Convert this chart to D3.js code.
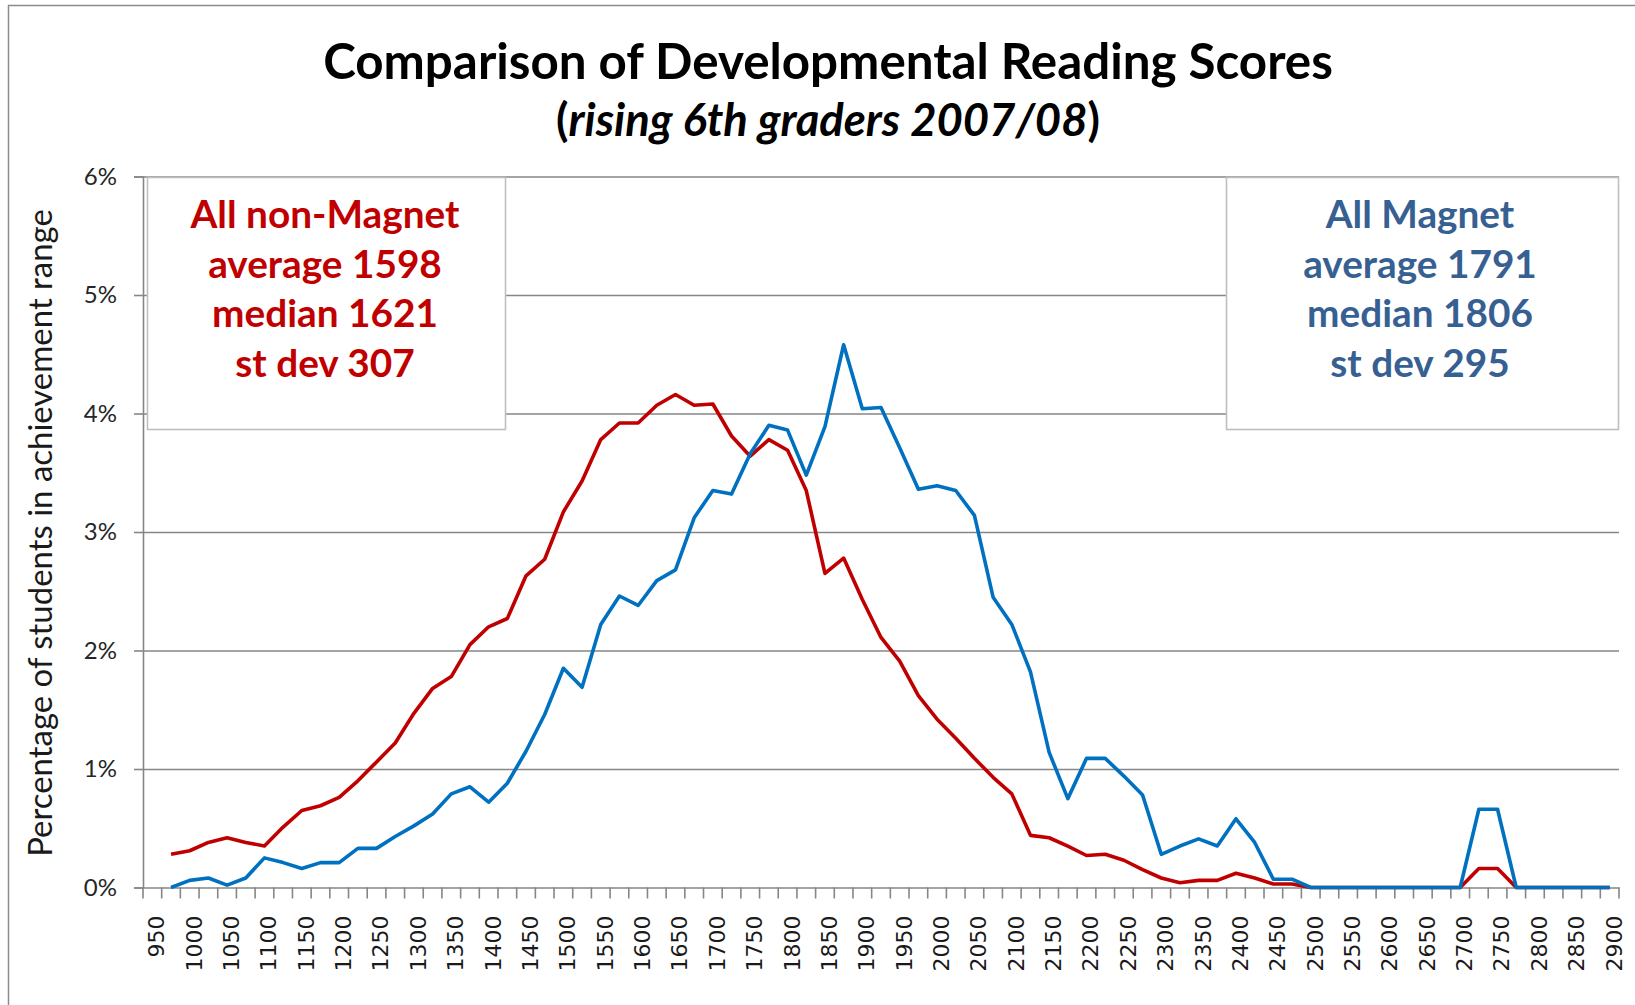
<!DOCTYPE html>
<html>
<head>
<meta charset="utf-8">
<script src="https://cdn.jsdelivr.net/npm/d3@7"></script>
<style>
    body { margin: 0; background: #fff; }
    #chartDiv { width: 1635px; height: 1005px; }
</style>
</head>
<body>
<div id="chartDiv"></div>
<script>

// score bins (category axis), every other one gets a label
const scoreBins = [950, 975, 1000, 1025, 1050, 1075, 1100, 1125, 1150, 1175, 1200, 1225, 1250, 1275,
    1300, 1325, 1350, 1375, 1400, 1425, 1450, 1475, 1500, 1525, 1550, 1575, 1600, 1625, 1650, 1675,
    1700, 1725, 1750, 1775, 1800, 1825, 1850, 1875, 1900, 1925, 1950, 1975, 2000, 2025, 2050, 2075,
    2100, 2125, 2150, 2175, 2200, 2225, 2250, 2275, 2300, 2325, 2350, 2375, 2400, 2425, 2450, 2475,
    2500, 2525, 2550, 2575, 2600, 2625, 2650, 2675, 2700, 2725, 2750, 2775, 2800, 2825, 2850, 2875, 2900];

const xLabels = [950, 1000, 1050, 1100, 1150, 1200, 1250, 1300, 1350, 1400, 1450, 1500, 1550, 1600,
    1650, 1700, 1750, 1800, 1850, 1900, 1950, 2000, 2050, 2100, 2150, 2200, 2250, 2300, 2350, 2400,
    2450, 2500, 2550, 2600, 2650, 2700, 2750, 2800, 2850, 2900];

const yTicks = [0, 1, 2, 3, 4, 5, 6];

// percentage of students per bin
const nonMagnetPct = [null, 0.28, 0.31, 0.38, 0.42, 0.38, 0.35, 0.51, 0.65, 0.69, 0.76, 0.90, 1.06, 1.22,
    1.47, 1.68, 1.78, 2.05, 2.20, 2.27, 2.63, 2.77, 3.17, 3.43, 3.78, 3.92, 3.92, 4.07, 4.16, 4.07,
    4.08, 3.81, 3.64, 3.78, 3.69, 3.35, 2.65, 2.78, 2.43, 2.11, 1.91, 1.62, 1.42, 1.26, 1.09, 0.93,
    0.79, 0.44, 0.42, 0.35, 0.27, 0.28, 0.23, 0.15, 0.08, 0.04, 0.06, 0.06, 0.12, 0.08, 0.03, 0.03,
    0, 0, 0, 0, 0, 0, 0, 0, 0, 0.16, 0.16, 0, 0, 0, 0, 0, 0];

const magnetPct = [null, 0, 0.06, 0.08, 0.02, 0.08, 0.25, 0.21, 0.16, 0.21, 0.21, 0.33, 0.33, 0.43,
    0.52, 0.62, 0.79, 0.85, 0.72, 0.88, 1.15, 1.46, 1.85, 1.69, 2.22, 2.46, 2.38, 2.59, 2.68, 3.12,
    3.35, 3.32, 3.66, 3.90, 3.86, 3.48, 3.89, 4.58, 4.04, 4.05, 3.71, 3.36, 3.39, 3.35, 3.14, 2.45,
    2.22, 1.82, 1.14, 0.75, 1.09, 1.09, 0.94, 0.78, 0.28, 0.35, 0.41, 0.35, 0.58, 0.38, 0.07, 0.07,
    0, 0, 0, 0, 0, 0, 0, 0, 0, 0.66, 0.66, 0, 0, 0, 0, 0, 0];

const nonMagnetStats = ["All non-Magnet", "average 1598", "median 1621", "st dev 307"];
const magnetStats = ["All Magnet", "average 1791", "median 1806", "st dev 295"];


class ReadingChart {

    constructor(parentElement) {
        this.parentElement = parentElement;
        this.initVis();
    }

    initVis() {
        let vis = this;

        vis.margin = {top: 176.5, right: 16, bottom: 117.5, left: 143};
        vis.width = 1635 - vis.margin.left - vis.margin.right;
        vis.height = 1005 - vis.margin.top - vis.margin.bottom;

        vis.svgRoot = d3.select("#" + vis.parentElement).append("svg")
            .attr("width", 1635)
            .attr("height", 1005)
            .style("font-family", "Lato, 'Open Sans', sans-serif");

        // chart area frame (runs off the right and bottom edge)
        vis.svgRoot.append("rect")
            .attr("x", 8.5).attr("y", 5.5)
            .attr("width", 1700).attr("height", 1100)
            .attr("fill", "#fff")
            .attr("stroke", "#8c8c8c")
            .attr("stroke-width", 1.5);

        vis.svg = vis.svgRoot.append("g")
            .attr("transform", `translate(${vis.margin.left}, ${vis.margin.top})`);

        vis.x = d3.scaleBand()
            .domain(scoreBins)
            .range([0, vis.width])
            .padding(0);

        vis.y = d3.scaleLinear()
            .domain([0, 6])
            .range([vis.height, 0]);

        vis.wrangleData();
    }

    wrangleData() {
        let vis = this;

        vis.series = [
            {name: "nonMagnet", color: "#c00000", values: scoreBins.map((b, i) => ({bin: b, pct: nonMagnetPct[i]}))},
            {name: "magnet", color: "#0070c0", values: scoreBins.map((b, i) => ({bin: b, pct: magnetPct[i]}))}
        ];

        vis.updateVis();
    }

    fitWidth(sel, target) {
        let size = parseFloat(sel.style("font-size"));
        let w = sel.node().getComputedTextLength();
        sel.style("font-size", (size * target / w) + "px");
        return size * target / w;
    }

    updateVis() {
        let vis = this;

        // gridlines
        vis.svg.append("g")
            .attr("class", "grid")
            .call(d3.axisLeft(vis.y).tickValues(yTicks.slice(1)).tickSize(-vis.width).tickFormat(""))
            .call(g => g.select(".domain").remove())
            .selectAll("line")
            .attr("stroke", "#868686")
            .attr("stroke-width", 1.6);

        // stat boxes
        let boxes = [
            {lines: nonMagnetStats, color: "#c00000", x: 147, w: 358, cx: 325},
            {lines: magnetStats, color: "#376092", x: 1226, w: 392, cx: 1420}
        ];
        let baselines = [228, 278, 327, 377];

        boxes.forEach(b => {
            vis.svgRoot.append("rect")
                .attr("x", b.x + 0.5).attr("y", 177.5)
                .attr("width", b.w).attr("height", 252)
                .attr("fill", "#fff")
                .attr("stroke", "#bfbfbf")
                .attr("stroke-width", 1.6);
        });

        // y axis
        let yAxisG = vis.svg.append("g")
            .attr("class", "y-axis")
            .call(d3.axisLeft(vis.y).tickValues(yTicks).tickSize(9).tickPadding(17).tickFormat(d => d + "%"));
        yAxisG.select(".domain").attr("stroke", "#868686").attr("stroke-width", 1.6);
        yAxisG.selectAll("line").attr("stroke", "#868686").attr("stroke-width", 1.6);
        yAxisG.selectAll("text")
            .style("font-family", "Lato, sans-serif")
            .style("font-size", "24px")
            .attr("fill", "#262626");

        // x axis: line, boundary ticks, rotated labels
        let xAxisG = vis.svg.append("g")
            .attr("class", "x-axis")
            .attr("transform", `translate(0, ${vis.height})`)
            .call(d3.axisBottom(vis.x).tickValues(xLabels).tickSize(0).tickPadding(0));
        xAxisG.select(".domain").attr("stroke", "#868686").attr("stroke-width", 1.6);
        xAxisG.selectAll("text")
            .attr("transform", "rotate(-90)")
            .attr("x", -28)
            .attr("y", 4)
            .attr("dy", "0.36em")
            .style("text-anchor", "end")
            .style("font-family", "'DejaVu Sans', sans-serif")
            .style("font-size", "22px")
            .attr("fill", "#1a1a1a");

        xAxisG.selectAll(".bin-tick")
            .data(scoreBins.concat(["end"]))
            .enter().append("line")
            .attr("class", "bin-tick")
            .attr("x1", d => d === "end" ? vis.width : vis.x(d))
            .attr("x2", d => d === "end" ? vis.width : vis.x(d))
            .attr("y1", 0)
            .attr("y2", 11)
            .attr("stroke", "#868686")
            .attr("stroke-width", 1.6);

        // series
        let line = d3.line()
            .defined(d => d.pct !== null)
            .x(d => vis.x(d.bin) + vis.x.bandwidth() / 2)
            .y(d => vis.y(d.pct));

        vis.svg.selectAll(".series")
            .data(vis.series)
            .enter().append("path")
            .attr("class", "series")
            .attr("d", d => line(d.values))
            .attr("fill", "none")
            .attr("stroke", d => d.color)
            .attr("stroke-width", 3.6)
            .attr("stroke-linejoin", "round");

        // box texts
        let boxFont = null;
        boxes.forEach(b => {
            let t = vis.svgRoot.append("g");
            b.lines.forEach((txt, i) => {
                let el = t.append("text")
                    .attr("x", b.cx)
                    .attr("y", baselines[i])
                    .attr("text-anchor", "middle")
                    .style("font-weight", "bold")
                    .style("font-size", (boxFont || 40) + "px")
                    .attr("fill", b.color)
                    .text(txt);
                if (boxFont === null) boxFont = vis.fitWidth(el, 269);
            });
        });

        // titles
        let title = vis.svgRoot.append("text")
            .attr("x", 828).attr("y", 79)
            .attr("text-anchor", "middle")
            .style("font-weight", "bold")
            .style("font-size", "48px")
            .attr("fill", "#000")
            .text("Comparison of Developmental Reading Scores");
        vis.fitWidth(title, 1010);

        let sub = vis.svgRoot.append("text")
            .attr("x", 828).attr("y", 136)
            .attr("text-anchor", "middle")
            .style("font-weight", "bold")
            .style("font-size", "42px")
            .attr("fill", "#000");
        sub.append("tspan").text("(");
        sub.append("tspan").style("font-style", "italic").text("rising 6th graders  2007/08");
        sub.append("tspan").text(")");
        vis.fitWidth(sub, 544);

        let yLabel = vis.svgRoot.append("text")
            .attr("transform", "translate(52, 533) rotate(-90)")
            .attr("text-anchor", "middle")
            .style("font-size", "32px")
            .attr("fill", "#1a1a1a")
            .text("Percentage of students in achievement range");
        vis.fitWidth(yLabel, 648);
    }
}

new ReadingChart("chartDiv");

</script>
</body>
</html>
